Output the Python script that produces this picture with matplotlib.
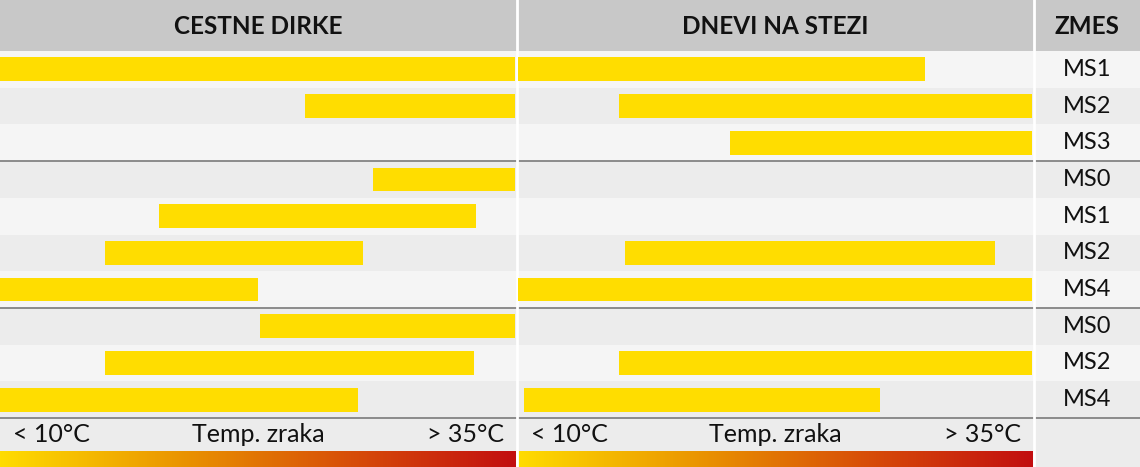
import numpy as np
import matplotlib
matplotlib.use('Agg')
import matplotlib.pyplot as plt
from matplotlib.patches import Rectangle
from matplotlib.colors import LinearSegmentedColormap

plt.rcParams['font.family'] = ['Lato', 'DejaVu Sans']

# data: temperature ranges (°C) per compound, None = not recommended
compounds = ['MS1', 'MS2', 'MS3', 'MS0', 'MS1', 'MS2', 'MS4', 'MS0', 'MS2', 'MS4']
road_lo = [10, 24.8, None, 28.1, 17.7, 15.1, 10, 22.6, 15.1, 10]
road_hi = [35, 35, None, 35, 33.1, 27.6, 22.5, 35, 33.0, 27.4]
track_lo = [10, 14.9, 20.3, None, None, 15.2, 10, None, 14.9, 10.3]
track_hi = [29.8, 35, 35, None, None, 33.2, 35, None, 35, 27.6]
headers = ['CESTNE DIRKE', 'DNEVI NA STEZI', 'ZMES']
t_min, t_max = 10, 35

W, H = 1140, 467
top, bottom = 51, 418
row_h = (bottom - top) / len(compounds)

fig = plt.figure(figsize=(W / 100, H / 100), dpi=100)
bg = fig.add_axes([0, 0, 1, 1])
bg.set_xlim(0, W)
bg.set_ylim(H, 0)
bg.axis('off')

# header
bg.add_patch(Rectangle((0, 0), W, top, color='#c8c8c8', lw=0))
# row backgrounds
for i in range(len(compounds)):
    c = '#f5f5f5' if i % 2 == 0 else '#ececec'
    bg.add_patch(Rectangle((0, top + i * row_h), W, row_h, color=c, lw=0))
# bottom label row
bg.add_patch(Rectangle((0, bottom), W, H - bottom, color='#ececec', lw=0))

# gradient bars at the bottom
cmap = LinearSegmentedColormap.from_list('temp', ['#ffdc00', '#eb9800', '#d85008', '#c20e10'])
grad = np.linspace(0, 1, 256).reshape(1, -1)
for x0, x1 in [(0, 516), (518, 1033)]:
    bg.imshow(grad, cmap=cmap, aspect='auto', extent=(x0, x1, H, 451), zorder=2)

# separators
for y in [top + 3 * row_h, top + 7 * row_h, bottom]:
    bg.plot([0, W], [y, y], color='#7a7a7a', lw=1.2, zorder=3)
for x in [517, 1034]:
    bg.plot([x, x], [0, H], color='white', lw=2, zorder=4)

# header texts
bg.text(258, 26, headers[0], ha='center', va='center', fontsize=17.5, fontweight='bold', color='#111111')
bg.text(775, 26, headers[1], ha='center', va='center', fontsize=17.5, fontweight='bold', color='#111111')
bg.text(1087, 26, headers[2], ha='center', va='center', fontsize=17.5, fontweight='bold', color='#111111')

# compound labels
for i, name in enumerate(compounds):
    bg.text(1087, top + (i + 0.5) * row_h, name, ha='center', va='center', fontsize=17, color='#111111')

# bottom axis labels
for x0, x1 in [(0, 516), (518, 1033)]:
    yb = 435
    bg.text(x0 + 13, yb, '< 10°C', ha='left', va='center', fontsize=18, color='#111111')
    bg.text((x0 + x1) / 2, yb, 'Temp. zraka', ha='center', va='center', fontsize=18, color='#111111')
    bg.text(x1 - 12, yb, '> 35°C', ha='right', va='center', fontsize=18, color='#111111')

# panels with bars
y = np.arange(len(compounds))
for (x0, x1), lo, hi in [((0, 515), road_lo, road_hi), ((518, 1032), track_lo, track_hi)]:
    ax = fig.add_axes([x0 / W, (H - bottom) / H, (x1 - x0) / W, (bottom - top) / H])
    ax.set_xlim(t_min, t_max)
    ax.set_ylim(len(compounds) - 0.5, -0.5)
    ax.axis('off')
    ax.patch.set_alpha(0)
    for yi, a, b in zip(y, lo, hi):
        if a is None:
            continue
        ax.barh(yi, b - a, left=a, height=0.65, color='#ffdd00', lw=0)

fig.savefig('out.png', dpi=100)
